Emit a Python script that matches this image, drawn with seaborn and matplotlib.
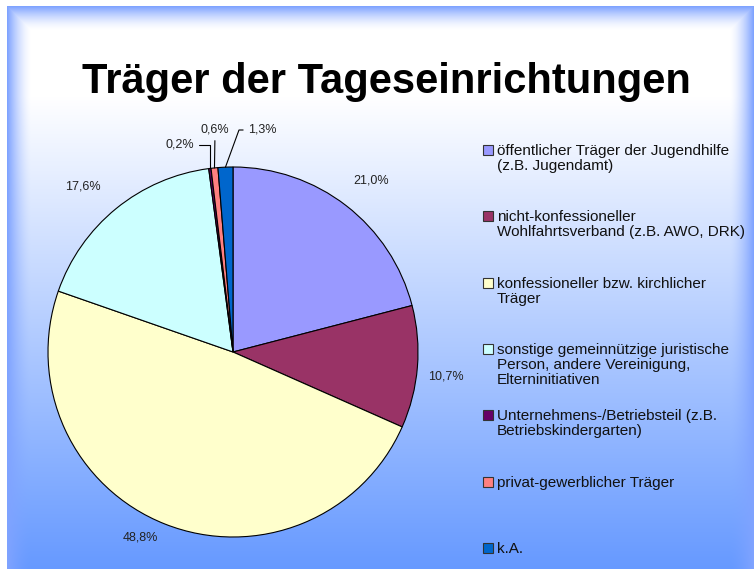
import matplotlib
matplotlib.use("Agg")

import numpy as np
import matplotlib.pyplot as plt
import seaborn as sns
from matplotlib.patches import Rectangle


sns.set_theme(style="white")
plt.rcParams["font.family"] = ["Liberation Sans", "DejaVu Sans"]

TITLE = "Träger der Tageseinrichtungen"

categories = [
    "öffentlicher Träger der Jugendhilfe\n(z.B. Jugendamt)",
    "nicht-konfessioneller\nWohlfahrtsverband (z.B. AWO, DRK)",
    "konfessioneller bzw. kirchlicher\nTräger",
    "sonstige gemeinnützige juristische\nPerson, andere Vereinigung,\nElterninitiativen",
    "Unternehmens-/Betriebsteil (z.B.\nBetriebskindergarten)",
    "privat-gewerblicher Träger",
    "k.A.",
]
shares = [21.0, 10.7, 48.8, 17.6, 0.2, 0.6, 1.3]
colors = ["#9999FF", "#993366", "#FFFFCC", "#CCFFFF", "#660066", "#FF8080", "#0066CC"]

W, H = 754, 569
fig = plt.figure(figsize=(W / 100, H / 100), dpi=100)

# slide background: white at top, blue at bottom, blue glow at the edges
bw, bh = W - 7, H - 6
bg = fig.add_axes([7 / W, 0, bw / W, bh / H])
yy, xx = np.mgrid[0:bh, 0:bw].astype(float)
t = np.clip((yy - 90) / (bh - 90), 0, 1)[..., None]
white = np.array([1.0, 1.0, 1.0])
blue = np.array([0.40, 0.60, 1.0])
edge = np.array([0.50, 0.64, 1.0])
base = white * (1 - t) + blue * t
d = np.minimum(np.minimum(xx, bw - 1 - xx), yy)
e = (np.clip(1 - d / 24, 0, 1) ** 1.6)[..., None]
img = base * (1 - e) + edge * e
bg.imshow(img, aspect="auto")
bg.axis("off")

# pie
cx, cy, r = 233, 352, 185
ax = fig.add_axes([(cx - r) / W, (H - cy - r) / H, 2 * r / W, 2 * r / H])
ax.patch.set_visible(False)
wedges, _ = ax.pie(
    shares,
    colors=sns.color_palette(colors),
    startangle=90,
    counterclock=False,
    wedgeprops=dict(edgecolor="black", linewidth=0.8),
)
ax.set_xlim(-1, 1)
ax.set_ylim(-1, 1)
ax.axis("off")


def fmt(v):
    return f"{v:.1f}%".replace(".", ",")


# (radius, angle shift in degrees) for the outside labels
label_pos = [(1.19, -1), (1.16, -2), (1.12, -5), (1.21, 3)]
for w, v, (lr, da) in zip(wedges[:4], shares[:4], label_pos):
    a = np.deg2rad((w.theta1 + w.theta2) / 2 + da)
    ax.text(lr * np.cos(a), lr * np.sin(a), fmt(v), ha="center", va="center",
            fontsize=9, color="#222222")

# small slices with leader lines
small = [
    ((-0.286, 1.12), "angle,angleA=0,angleB=90"),
    ((-0.097, 1.20), "arc3"),
    ((0.157, 1.20), "angle,angleA=0,angleB=70"),
]
for w, v, (pos, cs) in zip(wedges[4:], shares[4:], small):
    a = np.deg2rad((w.theta1 + w.theta2) / 2)
    ax.annotate(fmt(v), xy=(np.cos(a), np.sin(a)), xytext=pos,
                ha="center", va="center", fontsize=9, color="#222222",
                arrowprops=dict(arrowstyle="-", color="black", lw=0.8,
                                connectionstyle=cs, shrinkA=1, shrinkB=0))

# legend
for i, (lab, w) in enumerate(zip(categories, wedges)):
    top = 144 + i * 66.3
    fig.add_artist(Rectangle((483 / W, 1 - (top + 11) / H), 10 / W, 10 / H,
                             transform=fig.transFigure,
                             facecolor=w.get_facecolor(), edgecolor="#333333", lw=0.8))
    fig.text(497 / W, 1 - top / H, lab, ha="left", va="top", fontsize=11,
             linespacing=1.1, color="#111111")

fig.text(386 / W, 1 - 93 / H, TITLE, ha="center", va="baseline",
         fontsize=30, fontweight="bold", color="black")

fig.savefig("out.png", dpi=100)
